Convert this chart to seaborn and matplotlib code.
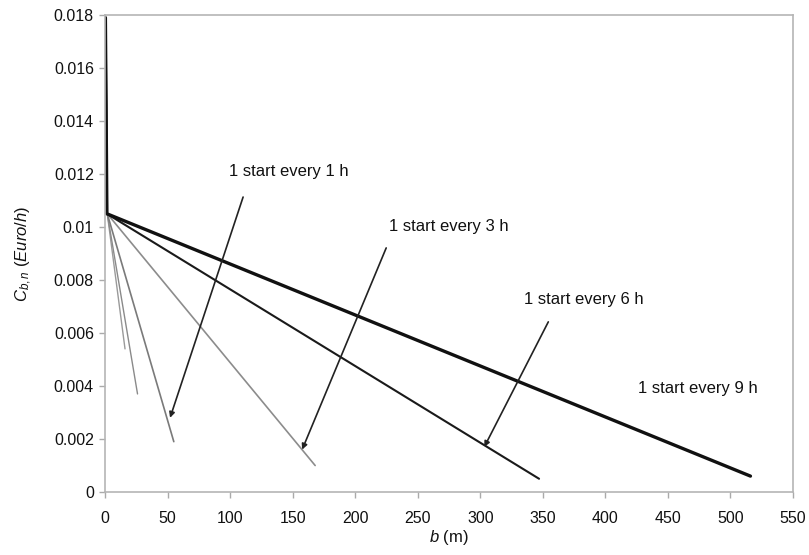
import matplotlib
matplotlib.use("Agg")
import matplotlib.pyplot as plt
import seaborn as sns
import pandas as pd

sns.set_theme(style="white")
plt.rcParams['font.family'] = ['Liberation Sans', 'DejaVu Sans']
plt.rcParams['mathtext.fontset'] = 'custom'
plt.rcParams['mathtext.rm'] = 'Liberation Sans'
plt.rcParams['mathtext.it'] = 'Liberation Sans:italic'

# series: b (m) and C_b,n (Euro/h)
b_9h = [0.3, 1.5, 516]
c_9h = [0.0179, 0.0105, 0.0006]
b_6h = [0.3, 1.5, 347]
c_6h = [0.0179, 0.0105, 0.0005]
b_3h = [0.8, 1.8, 168]
c_3h = [0.0172, 0.0105, 0.0010]
b_1h = [0.8, 1.8, 55]
c_1h = [0.0172, 0.0105, 0.0019]
b_a = [0.8, 1.8, 26]
c_a = [0.0172, 0.0105, 0.0037]
b_b = [0.8, 1.8, 16]
c_b = [0.0172, 0.0105, 0.0054]

xticks = [0, 50, 100, 150, 200, 250, 300, 350, 400, 450, 500, 550]
yticks = [0, 0.002, 0.004, 0.006, 0.008, 0.01, 0.012, 0.014, 0.016, 0.018]
ytick_labels = ["0", "0.002", "0.004", "0.006", "0.008", "0.01", "0.012", "0.014", "0.016", "0.018"]

labels = ["1 start every 1 h", "1 start every 3 h", "1 start every 6 h", "1 start every 9 h"]

series = [
    (b_b, c_b, "#9a9a9a", 1.0),
    (b_a, c_a, "#8a8a8a", 1.0),
    (b_1h, c_1h, "#7a7a7a", 1.2),
    (b_3h, c_3h, "#8c8c8c", 1.2),
    (b_6h, c_6h, "#1a1a1a", 1.5),
    (b_9h, c_9h, "#111111", 2.4),
]

fig = plt.figure(figsize=(8.09, 5.55), dpi=100)
ax = fig.add_axes([0.1298, 0.1135, 0.8504, 0.8595])

for bx, cy, col, lw in series:
    df = pd.DataFrame({"b": bx, "C": cy})
    sns.lineplot(data=df, x="b", y="C", ax=ax, color=col, linewidth=lw,
                 sort=False, estimator=None)

ax.set_xlim(0, 550)
ax.set_ylim(0, 0.018)
ax.set_xticks(xticks)
ax.set_xticklabels([str(t) for t in xticks])
ax.set_yticks(yticks)
ax.set_yticklabels(ytick_labels)
ax.tick_params(axis='both', direction='out', length=4, width=1, color='#aaaaaa',
               labelsize=11.5, labelcolor='#111111', bottom=True, left=True)
ax.tick_params(axis='x', pad=10)
ax.tick_params(axis='y', pad=4)

for sp in ax.spines.values():
    sp.set_color('#b5b5b5')
    sp.set_linewidth(1.2)

ax.set_xlabel(r"$b$ (m)", fontsize=12, color='#111111', labelpad=1)
ax.set_ylabel(r"$C_{b,n}$ ($Euro/h$)", fontsize=12, color='#111111', labelpad=14)

# annotations
ann = [
    (labels[0], (147, 0.0121), (110.4, 0.01113), (52, 0.0028)),
    (labels[1], (275, 0.0100), (224.8, 0.00921), (157.6, 0.0016)),
    (labels[2], (383, 0.00725), (354.4, 0.00642), (303.2, 0.0017)),
]
for txt, tpos, start, tip in ann:
    ax.text(tpos[0], tpos[1], txt, ha='center', va='center', fontsize=12, color='#111111')
    ax.annotate("", xy=tip, xytext=start,
                arrowprops=dict(arrowstyle="-|>", color='#222222', lw=1.2,
                                mutation_scale=8, shrinkA=0, shrinkB=0))
ax.text(474, 0.00392, labels[3], ha='center', va='center', fontsize=12, color='#111111')

fig.savefig("out.png", dpi=100)
